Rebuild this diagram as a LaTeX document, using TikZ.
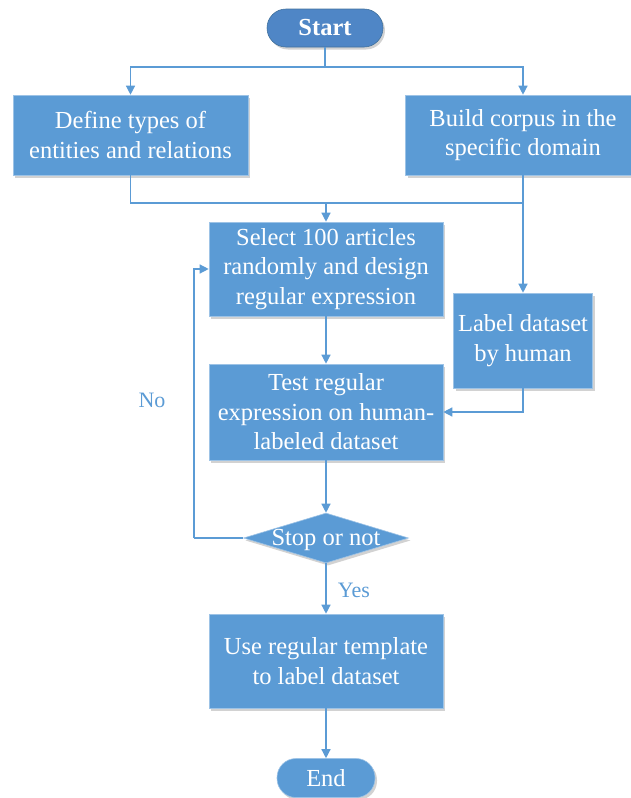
\documentclass[tikz,border=0pt]{standalone}
\usepackage{fontspec}
\setmainfont{Liberation Serif}
\usetikzlibrary{arrows.meta,shapes.geometric,shadows}
\definecolor{flowblue}{HTML}{5B9BD5}
\definecolor{startblue}{HTML}{4F86C6}
\definecolor{edgeblue}{HTML}{41719C}

\begin{document}
\begin{tikzpicture}[x=1pt,y=-1pt,
  box/.style={rectangle, fill=flowblue, draw=flowblue!60!white, line width=0.6pt,
    text=white, align=center, inner sep=0pt,
    font=\fontsize{24.5}{29.5}\selectfont,
    drop shadow={shadow xshift=2pt, shadow yshift=-2.5pt, fill=black!35}},
  term/.style={box, rounded corners=19pt},
  decision/.style={diamond, fill=flowblue, draw=flowblue!60!white, line width=0.6pt,
    text=white, inner xsep=-5pt, inner ysep=0pt, aspect=3.3,
    text height=14pt, text depth=0pt,
    font=\fontsize{24.5}{29.5}\selectfont,
    drop shadow={shadow xshift=2pt, shadow yshift=-2.5pt, fill=black!35}},
  line/.style={draw=flowblue, line width=1.3pt},
  arr/.style={line, -{Triangle[length=9pt,width=9pt]}},
  answer/.style={text=flowblue, font=\fontsize{22}{26}\selectfont}]

\useasboundingbox (0,0) rectangle (631,798);

% terminals and steps
\node[term, fill=startblue, draw=edgeblue, minimum width=116, minimum height=38] (start) at (325,28) {\textbf{Start}};
\node[box, minimum width=235, minimum height=80] (define) at (130.5,135) {Define types of\\entities and relations};
\node[box, minimum width=235, minimum height=80] (corpus) at (523,135) {Build corpus in the\\specific domain};
\node[box, minimum width=234, minimum height=94] (select) at (326,269) {Select 100 articles\\randomly and design\\regular expression};
\node[box, minimum width=139, minimum height=95] (label) at (523,340.5) {Label dataset\\by human};
\node[box, minimum width=234, minimum height=96] (test) at (326,412) {Test regular\\expression on human-\\labeled dataset};
\node[decision, minimum width=165, minimum height=50] (decide) at (326,538) {Stop or not};
\node[box, minimum width=234, minimum height=94] (use) at (326,661) {Use regular template\\to label dataset};
\node[term, minimum width=98, minimum height=39] (finish) at (326,778) {End};

\node[answer] (no) at (152,400) {No};
\node[answer] (yes) at (354,590) {Yes};

\coordinate (split) at (325,67);
\coordinate (merge) at (326,203);
\coordinate (back) at (194,538);

% connectors
\draw[line] (start.south) -- (split);
\draw[arr] (split) -| (define.north);
\draw[arr] (split) -| (corpus.north);
\draw[line] (define.south) |- (merge);
\draw[line] (corpus.south |- merge) -- (merge);
\draw[arr] (merge) -- (select.north);
\draw[arr] (corpus.south) -- (label.north);
\draw[arr] (select) -- (test);
\draw[arr] (label.south) |- (test.east);
\draw[arr] (test) -- (decide);
\draw[line] (decide.west) -- (back);
\draw[arr] (back) |- (select.west);
\draw[arr] (decide) -- (use);
\draw[arr] (use) -- (finish);
\end{tikzpicture}
\end{document}
